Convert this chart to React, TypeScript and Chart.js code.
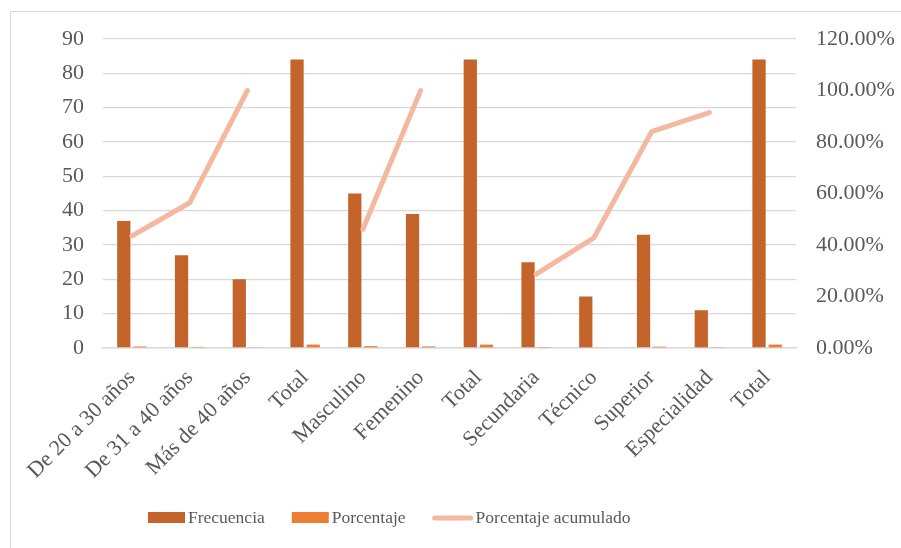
import React, { useEffect, useRef } from "react";
import { Chart, registerables } from "chart.js";

Chart.register(...registerables);

// Categories along the x axis
const categories = [
  "De 20 a 30 años",
  "De 31 a 40 años",
  "Más de 40 años",
  "Total",
  "Masculino",
  "Femenino",
  "Total",
  "Secundaria",
  "Técnico",
  "Superior",
  "Especialidad",
  "Total",
];

// Series values
const frecuencia = [37, 27, 20, 84, 45, 39, 84, 25, 15, 33, 11, 84];
const porcentaje = [0.44, 0.32, 0.24, 1, 0.54, 0.46, 1, 0.3, 0.18, 0.39, 0.13, 1];
const porcentajeAcumulado: (number | null)[] = [
  43.5, 56.4, 100, null, 46.1, 100, null, 28.7, 42.8, 84.0, 91.4, null,
];

// Axis ranges
const leftMax = 90;
const leftStep = 10;
const rightMax = 120;
const rightStep = 20;

const COLOR_FREC = "#C4632A";
const COLOR_PORC = "#ED7D31";
const COLOR_ACUM = "#F4B8A0";
const TEXT = "#595959";
const GRID = "#D9D9D9";
const FONT = "'Liberation Serif', 'Times New Roman', serif";

const legendEntries = [
  { label: "Frecuencia", kind: "box", color: COLOR_FREC },
  { label: "Porcentaje", kind: "box", color: COLOR_PORC },
  { label: "Porcentaje acumulado", kind: "line", color: COLOR_ACUM },
];

// Legend drawn along the bottom of the canvas
const bottomLegend = {
  id: "bottomLegend",
  afterDraw(chart: Chart) {
    const ctx = chart.ctx;
    ctx.save();
    ctx.font = `17.5px ${FONT}`;
    ctx.textBaseline = "middle";
    ctx.textAlign = "left";
    const y = 518;
    let x = 148;
    for (const item of legendEntries) {
      if (item.kind === "box") {
        ctx.fillStyle = item.color;
        ctx.fillRect(x, y - 6, 37, 11);
        x += 37 + 3;
      } else {
        ctx.strokeStyle = item.color;
        ctx.lineWidth = 5;
        ctx.lineCap = "round";
        ctx.beginPath();
        ctx.moveTo(x + 2, y);
        ctx.lineTo(x + 38, y);
        ctx.stroke();
        x += 40 + 3;
      }
      ctx.fillStyle = TEXT;
      ctx.fillText(item.label, x, y);
      x += ctx.measureText(item.label).width + 27;
    }
    ctx.restore();
  },
};

export default function App() {
  const canvasRef = useRef<HTMLCanvasElement | null>(null);

  useEffect(() => {
    const canvas = canvasRef.current;
    if (!canvas) return;
    const chart = new Chart(canvas, {
      type: "bar",
      data: {
        labels: categories,
        datasets: [
          {
            type: "line",
            label: "Porcentaje acumulado",
            data: porcentajeAcumulado,
            yAxisID: "y1",
            borderColor: COLOR_ACUM,
            backgroundColor: COLOR_ACUM,
            borderWidth: 5,
            borderCapStyle: "round",
            borderJoinStyle: "round",
            pointRadius: 0,
            tension: 0,
            spanGaps: false,
            order: 0,
          } as any,
          {
            type: "bar",
            label: "Frecuencia",
            data: frecuencia,
            yAxisID: "y",
            backgroundColor: COLOR_FREC,
            categoryPercentage: 0.56,
            barPercentage: 0.82,
            order: 1,
          },
          {
            type: "bar",
            label: "Porcentaje",
            data: porcentaje,
            yAxisID: "y",
            backgroundColor: COLOR_PORC,
            categoryPercentage: 0.56,
            barPercentage: 0.82,
            order: 1,
          },
        ],
      },
      options: {
        responsive: false,
        animation: false,
        layout: { padding: { top: 39, left: 62, right: 0, bottom: 0 } },
        plugins: {
          legend: { display: false },
          tooltip: { enabled: false },
        },
        scales: {
          x: {
            offset: true,
            grid: { display: false, drawTicks: false },
            border: { display: true, color: GRID, width: 1.5 },
            ticks: {
              autoSkip: false,
              minRotation: 45,
              maxRotation: 45,
              padding: 17,
              color: TEXT,
              font: { family: FONT, size: 22 },
            },
            afterFit(scale: any) {
              scale.height = 200;
            },
          },
          y: {
            position: "left",
            min: 0,
            max: leftMax,
            grid: { color: GRID, lineWidth: 1.3, drawTicks: false },
            border: { display: false },
            ticks: {
              stepSize: leftStep,
              padding: 19,
              color: TEXT,
              font: { family: FONT, size: 22 },
            },
            afterFit(scale: any) {
              scale.width = 41;
            },
          },
          y1: {
            position: "right",
            min: 0,
            max: rightMax,
            grid: { display: false, drawTicks: false },
            border: { display: false },
            ticks: {
              stepSize: rightStep,
              padding: 20,
              color: TEXT,
              font: { family: FONT, size: 22 },
              callback: (v: any) => Number(v).toFixed(2) + "%",
            },
            afterFit(scale: any) {
              scale.width = 105;
            },
          },
        },
      },
      plugins: [bottomLegend],
    });
    return () => chart.destroy();
  }, []);

  return (
    <div
      style={{
        position: "fixed",
        left: 0,
        top: 0,
        width: 901,
        height: 548,
        overflow: "hidden",
        background: "#ffffff",
      }}
    >
      <div
        style={{
          position: "absolute",
          left: 10,
          top: 11,
          width: 1000,
          height: 1000,
          border: `1px solid ${GRID}`,
        }}
      />
      <canvas
        ref={canvasRef}
        width={901}
        height={548}
        style={{ position: "absolute", left: 0, top: 0, display: "block" }}
      />
    </div>
  );
}
